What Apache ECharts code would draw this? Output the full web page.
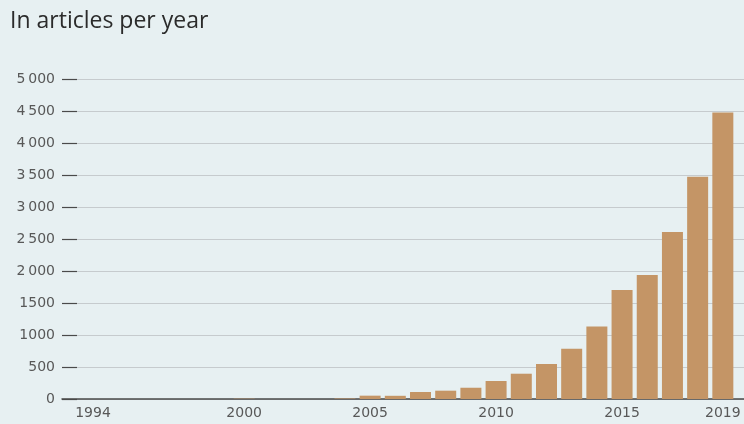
<!DOCTYPE html>
<html>
<head>
<meta charset="utf-8">
<script src="https://cdn.jsdelivr.net/npm/echarts@6/dist/echarts.min.js"></script>
<style>
html,body{margin:0;padding:0;background:#e7f0f2;}
#c{width:744px;height:424px;}
</style>
</head>
<body>
<div id="c"></div>
<script>
const years = [1994,1995,1996,1997,1998,1999,2000,2001,2002,2003,2004,2005,2006,2007,2008,2009,2010,2011,2012,2013,2014,2015,2016,2017,2018,2019];
const articles = [0,0,0,0,0,0,5,0,0,0,8,52,50,109,130,176,281,395,547,786,1134,1703,1937,2609,3473,4478];
const xTickLabels = [1994,2000,2005,2010,2015,2019];
const yTickLabels = {0:'0',500:'500',1000:'1000',1500:'1500',2000:'2\u2009000',2500:'2\u2009500',3000:'3\u2009000',3500:'3\u2009500',4000:'4\u2009000',4500:'4\u2009500',5000:'5\u2009000'};
const titleText = 'In articles per year';

const chart = echarts.init(document.getElementById('c'));
const titleFont = '"Open Sans", "Noto Sans", sans-serif';
const labelFont = '"DejaVu Sans", "Open Sans", sans-serif';
chart.setOption({
  backgroundColor: '#e7f0f2',
  animation: false,
  title: {
    text: titleText, left: 5, top: 5,
    textStyle: {fontFamily: titleFont, fontSize: 23, fontWeight: 'normal', color: '#2b2b2b'}
  },
  grid: {left: 62, right: 0, top: 79, bottom: 25, containLabel: false},
  xAxis: {
    type: 'value', min: 1992.77, max: 2019.84,
    axisLine: {onZero: true, lineStyle: {color: '#4a4a4a', width: 1.5}},
    axisTick: {show: false},
    splitLine: {show: false},
    axisLabel: {
      customValues: xTickLabels, margin: 7,
      fontFamily: labelFont, fontSize: 14, color: '#585858',
      formatter: v => String(v)
    }
  },
  yAxis: {
    type: 'value', min: 0, max: 5000, interval: 500,
    axisLine: {show: false},
    axisTick: {show: true, inside: true, length: 15, lineStyle: {color: '#4a4a4a', width: 1.2}},
    splitLine: {lineStyle: {color: '#c6cbce', width: 1}},
    axisLabel: {
      margin: 7, fontFamily: labelFont, fontSize: 14, color: '#585858',
      formatter: v => yTickLabels[v] !== undefined ? yTickLabels[v] : String(v)
    }
  },
  series: [{
    type: 'bar',
    data: years.map((y, i) => [y, articles[i]]),
    barWidth: 21,
    itemStyle: {color: '#c49566'}
  }]
});
</script>
</body>
</html>
